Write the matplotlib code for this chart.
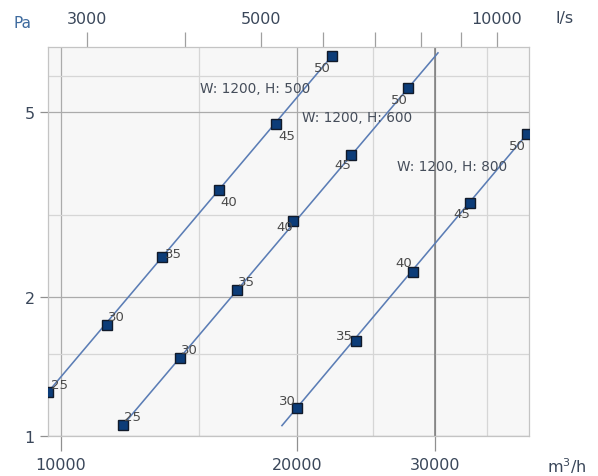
import numpy as np
import matplotlib
matplotlib.use("Agg")
import matplotlib.pyplot as plt
from matplotlib.ticker import FixedLocator, NullFormatter

# duct pressure drop vs. air flow, three duct sizes
s1_name = "W: 1200, H: 500"
s1_q = [9630, 11450, 13460, 15910, 18820, 22190]      # m3/h
s1_p = [1.245, 1.737, 2.44, 3.40, 4.72, 6.62]         # Pa
s1_lab = [25, 30, 35, 40, 45, 50]
s1_line_q = [9630, 22190]
s1_line_p = [1.245, 6.62]

s2_name = "W: 1200, H: 600"
s2_q = [12000, 14190, 16780, 19780, 23450, 27750]
s2_p = [1.056, 1.474, 2.07, 2.91, 4.04, 5.64]
s2_lab = [25, 30, 35, 40, 45, 50]
s2_line_q = [12000, 30300]
s2_line_p = [1.056, 6.72]

s3_name = "W: 1200, H: 800"
s3_q = [20010, 23810, 28160, 33290, 39370]
s3_p = [1.15, 1.60, 2.26, 3.19, 4.49]
s3_lab = [30, 35, 40, 45, 50]
s3_line_q = [19150, 39370]
s3_line_p = [1.053, 4.49]

x_major = [10000, 20000, 30000]
x_minor = [15000, 25000, 35000]
y_major = [1, 2, 5]
y_minor = [1.5, 3, 6]
top_ticks = [3000, 4000, 5000, 6000, 7000, 8000, 9000, 10000]
top_labels = ["3000", "", "5000", "", "", "", "", "10000"]

txt_col = "#3a475a"
line_col = "#5b7db5"
mk_face = "#0c3c78"

fig = plt.figure(figsize=(5.98, 4.77), dpi=100)
ax = fig.add_axes([0.0803, 0.0839, 0.8043, 0.8155])
ax.set_facecolor("#f7f7f7")
ax.set_xscale("log")
ax.set_yscale("log")
ax.set_xlim(9625, 39600)
ax.set_ylim(1, 6.92)

ax.xaxis.set_major_locator(FixedLocator(x_major))
ax.xaxis.set_minor_locator(FixedLocator(x_minor))
ax.set_xticklabels([str(v) for v in x_major])
ax.xaxis.set_minor_formatter(NullFormatter())
ax.yaxis.set_major_locator(FixedLocator(y_major))
ax.yaxis.set_minor_locator(FixedLocator(y_minor))
ax.set_yticklabels([str(v) for v in y_major])
ax.yaxis.set_minor_formatter(NullFormatter())

ax.grid(which="major", color="#ababab", lw=0.9)
ax.grid(which="minor", color="#d6d6d6", lw=0.9)
ax.axvline(30000, color="#7c7c7c", lw=1.1, zorder=1)
ax.set_axisbelow(True)

ax.tick_params(axis="x", which="major", length=11, width=0.9, color="#909090",
               pad=4, labelsize=11.5, labelcolor=txt_col)
ax.tick_params(axis="y", which="major", length=6, width=0.9, color="#909090",
               pad=3.5, labelsize=11.5, labelcolor=txt_col)
ax.tick_params(which="minor", length=0)
for sp in ax.spines.values():
    sp.set_color("#c4c4c4")
    sp.set_linewidth(0.9)

# top axis in l/s
sec = ax.secondary_xaxis("top", functions=(lambda q: q / 3.6, lambda v: v * 3.6))
sec.xaxis.set_major_locator(FixedLocator(top_ticks))
sec.xaxis.set_minor_locator(FixedLocator([]))
sec.set_xticklabels(top_labels)
sec.tick_params(length=11, width=0.9, color="#a0a0a0", pad=4,
                labelsize=11.5, labelcolor=txt_col)
sec.spines["top"].set_visible(False)

series = [
    (s1_name, s1_q, s1_p, s1_lab, s1_line_q, s1_line_p),
    (s2_name, s2_q, s2_p, s2_lab, s2_line_q, s2_line_p),
    (s3_name, s3_q, s3_p, s3_lab, s3_line_q, s3_line_p),
]
# label offsets (points) for each marker
offsets = [
    [(8, 5), (7, 6), (8, 2), (7, -8), (8, -8), (-7, -8)],
    [(7, 6), (7, 6), (7, 6), (-6, -4), (-6, -7), (-6, -8)],
    [(-7, 5), (-8, 4), (-7, 7), (-6, -8), (-7, -8)],
]
name_pos = [(15050, 5.64), (20310, 4.89), (26870, 3.83)]

for (name, q, p, lab, lq, lp), offs, npos in zip(series, offsets, name_pos):
    ax.plot(lq, lp, color=line_col, lw=1.15, zorder=3)
    ax.plot(q, p, ls="none", marker="s", ms=6.8, mfc=mk_face, mec="#111a2a",
            mew=1.0, zorder=4)
    for qi, pi, li, (dx, dy) in zip(q, p, lab, offs):
        ax.annotate(str(li), (qi, pi), xytext=(dx, dy), textcoords="offset points",
                    ha="center", va="center", fontsize=9.5, color="#4a4a4a",
                    zorder=5)
    ax.text(npos[0], npos[1], name, fontsize=9.8, color="#454d5a",
            ha="left", va="center", zorder=5)

fig.text(22 / 598, 1 - 24 / 477, "Pa", fontsize=11, color="#3d6a9e",
         ha="center", va="center")
fig.text(565 / 598, 1 - 18 / 477, "l/s", fontsize=11.5, color=txt_col,
         ha="center", va="center")
fig.text(567 / 598, 1 - 466 / 477, "m$^3$/h", fontsize=11.5, color=txt_col,
         ha="center", va="center")

fig.savefig("out.png", dpi=100)
